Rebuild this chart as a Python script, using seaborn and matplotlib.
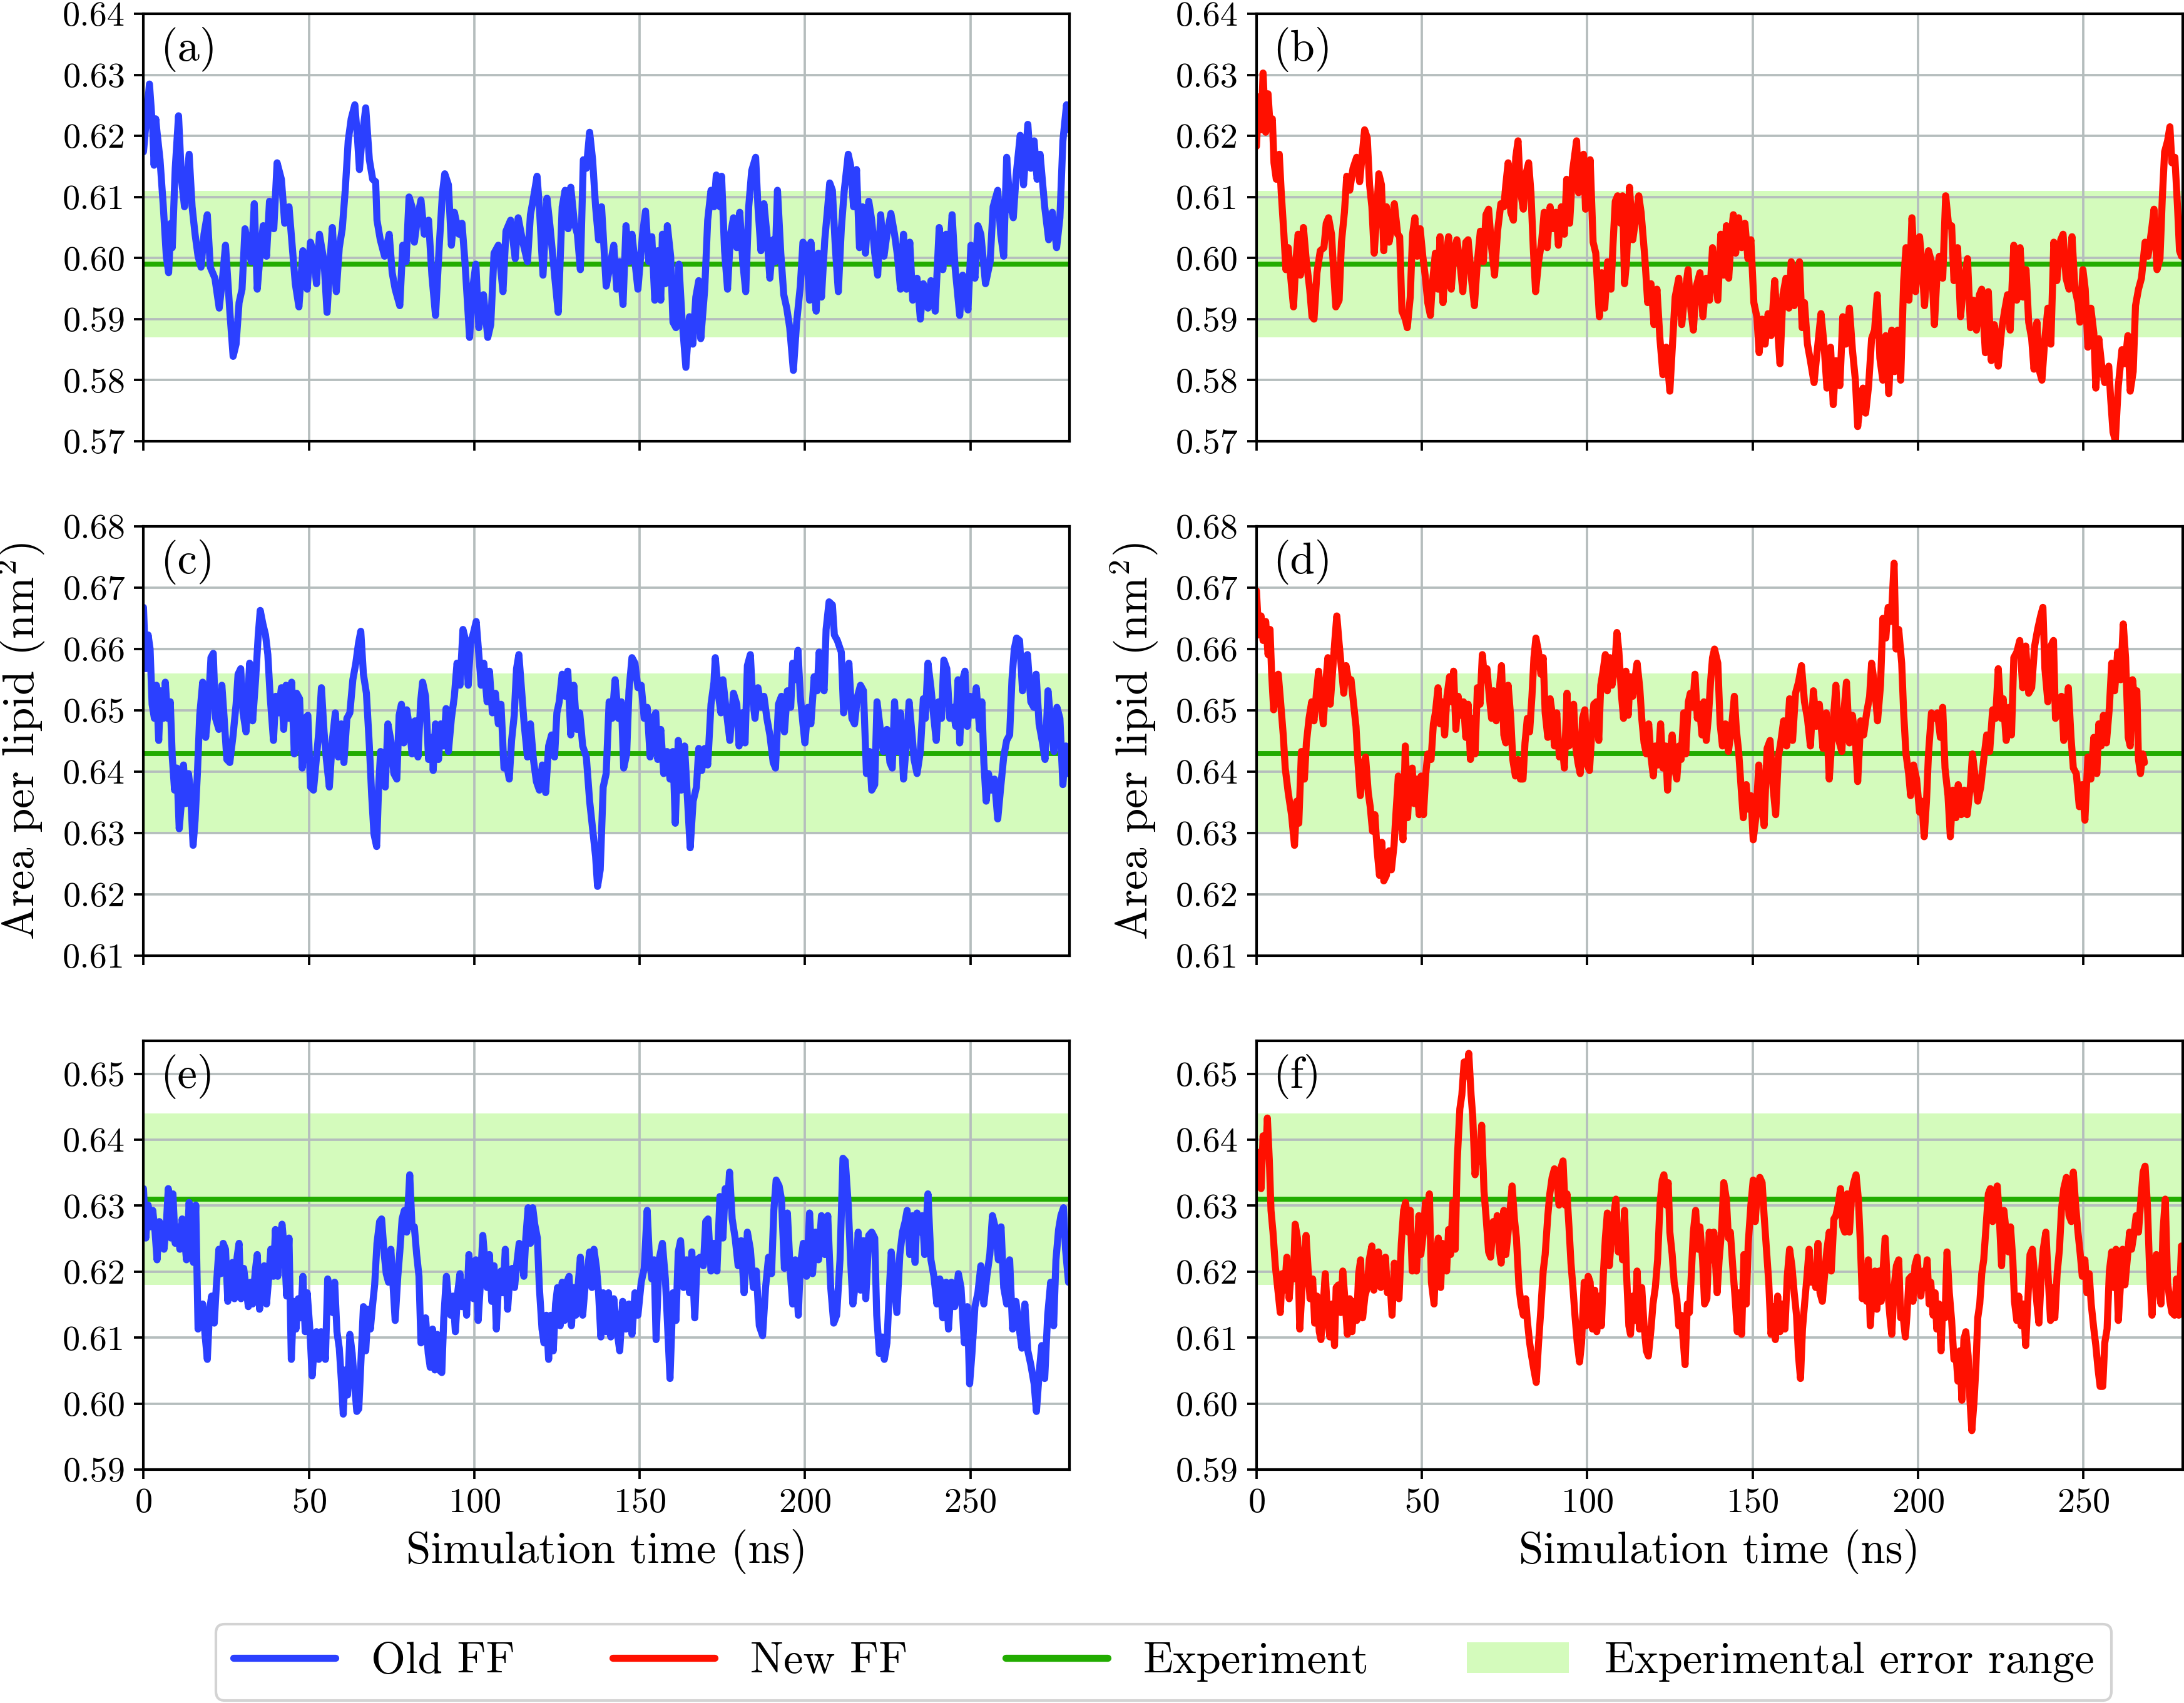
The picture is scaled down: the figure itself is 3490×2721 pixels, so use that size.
import numpy as np
import matplotlib
matplotlib.use("Agg")
import matplotlib.pyplot as plt
import seaborn as sns
from matplotlib.ticker import FormatStrFormatter, MultipleLocator
from matplotlib.lines import Line2D
from matplotlib.patches import Patch

# ---------------- data ----------------
t_a = [0.0,1.8,2.8,3.2,3.7,4.1,5.0,6.0,6.9,7.6,
       8.3,8.7,9.6,10.6,11.5,12.4,13.8,14.7,15.6,16.5,
       17.4,18.3,19.3,20.2,21.6,22.9,23.9,24.8,26.1,27.1,
       28.0,28.9,29.8,30.7,31.7,32.6,33.5,34.4,35.3,36.2,
       37.2,38.1,39.4,40.4,41.7,42.7,44.0,45.0,45.9,47.0,
       48.2,49.5,50.5,51.4,52.3,53.2,54.6,55.5,56.4,57.1,
       58.3,59.2,60.1,61.0,61.9,62.8,63.9,64.7,65.3,66.1,
       67.2,68.3,69.3,70.2,70.6,71.6,72.9,74.3,75.2,76.1,
       77.5,78.4,79.4,80.3,81.2,81.9,83.0,83.9,84.9,86.2,
       87.2,88.3,89.4,90.4,91.1,92.2,93.1,94.0,95.4,96.3,
       97.2,98.6,99.5,100.5,101.4,102.8,104.1,105.0,106.0,107.3,
       108.7,109.6,111.0,112.4,113.3,114.7,116.1,117.0,117.9,119.0,
       119.7,120.8,122.0,122.9,124.3,125.4,126.6,127.5,128.4,129.2,
       130.3,131.2,132.1,133.0,133.9,134.9,135.8,136.7,137.6,138.5,
       139.0,139.9,141.3,142.2,143.1,144.0,145.0,145.9,146.8,147.7,
       148.6,149.5,150.9,151.8,152.8,153.7,154.6,155.5,156.4,156.9,
       157.8,158.4,159.4,160.1,161.0,161.9,162.8,164.0,165.1,166.1,
       167.0,167.9,168.5,169.7,170.6,171.6,172.5,173.2,174.3,174.8,
       175.7,176.6,177.5,178.4,179.4,180.3,181.2,182.1,183.0,183.9,
       185.1,185.8,186.7,187.6,188.5,189.4,190.4,191.0,191.7,192.7,
       193.6,194.5,195.4,196.5,197.5,198.6,199.4,200.5,201.4,201.8,
       202.8,203.4,204.1,205.0,206.0,206.9,207.5,208.3,209.2,210.1,
       211.0,211.9,213.1,213.8,214.7,215.6,216.5,217.4,218.3,219.3,
       220.2,221.1,222.0,222.9,223.9,224.8,226.0,227.1,228.0,228.9,
       229.8,230.7,231.7,232.6,233.9,234.9,235.8,237.2,238.1,239.4,
       240.6,241.7,242.7,243.6,244.5,245.4,246.8,247.7,249.3,250.2,
       251.4,252.3,253.2,254.6,256.0,256.9,258.3,259.2,260.1,261.0,
       261.9,263.0,263.9,265.1,266.1,267.4,268.3,269.3,270.2,271.1,
       272.5,273.7,274.8,276.1,277.1,278.0,279.1,279.8]
old_a = [0.6174,0.6285,0.6210,0.6152,0.6228,0.6206,0.6161,0.6084,0.6003,0.5976,
         0.6057,0.6017,0.6147,0.6233,0.6129,0.6084,0.6170,0.6084,0.6039,0.6003,
         0.5985,0.6039,0.6071,0.5985,0.5967,0.5918,0.5967,0.6021,0.5913,0.5839,
         0.5859,0.5927,0.5949,0.6048,0.6017,0.5994,0.6089,0.5949,0.6008,0.6053,
         0.6003,0.6093,0.6048,0.6156,0.6129,0.6057,0.6084,0.6017,0.5958,0.5920,
         0.6012,0.5949,0.6026,0.6008,0.5958,0.6039,0.5994,0.5911,0.5994,0.6050,
         0.5945,0.6017,0.6048,0.6111,0.6192,0.6228,0.6251,0.6197,0.6145,0.6197,
         0.6246,0.6161,0.6129,0.6125,0.6062,0.6030,0.6003,0.6039,0.5976,0.5949,
         0.5922,0.6021,0.5994,0.6100,0.6084,0.6026,0.6071,0.6095,0.6039,0.6062,
         0.5972,0.5906,0.6017,0.6107,0.6138,0.6120,0.6021,0.6075,0.6039,0.6057,
         0.5994,0.5870,0.5949,0.5990,0.5886,0.5940,0.5870,0.5891,0.6008,0.6021,
         0.5945,0.6044,0.6062,0.5999,0.6066,0.6026,0.5994,0.6071,0.6098,0.6134,
         0.6084,0.5972,0.6098,0.6053,0.5972,0.5911,0.6084,0.6111,0.6048,0.6116,
         0.6057,0.6039,0.5981,0.6161,0.6147,0.6206,0.6161,0.6084,0.6030,0.6084,
         0.6039,0.5954,0.5994,0.6021,0.5949,0.5994,0.5924,0.6053,0.5994,0.6039,
         0.5994,0.5949,0.6039,0.6077,0.5994,0.6035,0.5931,0.6012,0.5931,0.6039,
         0.5958,0.6053,0.6003,0.5895,0.5886,0.5990,0.5904,0.5821,0.5904,0.5859,
         0.5936,0.5963,0.5868,0.5949,0.6062,0.6111,0.6084,0.6136,0.6084,0.6134,
         0.6012,0.5949,0.6039,0.6066,0.6017,0.6075,0.5994,0.5945,0.6084,0.6143,
         0.6165,0.6084,0.6012,0.6089,0.6039,0.5967,0.6030,0.5994,0.6111,0.6008,
         0.5940,0.5918,0.5886,0.5816,0.5895,0.5954,0.6026,0.6017,0.5931,0.6026,
         0.5949,0.5913,0.6008,0.5936,0.6030,0.6084,0.6123,0.6111,0.6017,0.5945,
         0.6048,0.6111,0.6170,0.6152,0.6084,0.6145,0.6017,0.6084,0.6008,0.6093,
         0.6062,0.6008,0.5972,0.6071,0.6003,0.6039,0.6073,0.6039,0.6003,0.5949,
         0.6039,0.5949,0.6026,0.5931,0.5967,0.5900,0.5958,0.5918,0.5963,0.5913,
         0.6050,0.5981,0.6039,0.5994,0.6071,0.5985,0.5906,0.5972,0.5915,0.6021,
         0.5967,0.6053,0.6039,0.5958,0.5994,0.6084,0.6111,0.6039,0.6003,0.6165,
         0.6093,0.6066,0.6138,0.6201,0.6120,0.6219,0.6147,0.6192,0.6129,0.6170,
         0.6084,0.6030,0.6075,0.6017,0.6066,0.6192,0.6251,0.6210]

t_b = [0.0,0.7,1.4,2.0,2.8,3.5,4.1,4.8,5.3,6.0,
       6.9,7.5,8.3,8.9,9.6,10.3,11.2,11.9,12.6,13.3,
       14.2,15.1,16.1,16.8,17.4,18.3,19.3,20.4,21.1,21.8,
       22.7,23.4,24.0,25.0,25.7,26.6,27.3,28.2,29.2,30.3,
       31.2,31.9,32.7,33.5,34.2,34.9,35.6,36.2,37.0,37.8,
       38.5,39.3,40.1,40.8,41.7,42.7,43.3,44.0,45.0,45.6,
       46.5,47.2,47.9,48.6,49.5,50.3,51.0,51.8,52.6,53.2,
       54.1,54.9,55.5,56.4,57.3,58.1,58.9,59.8,60.6,61.5,
       62.4,63.3,64.0,65.0,65.9,66.8,67.7,68.6,69.4,70.2,
       71.1,72.0,72.9,73.9,74.8,75.4,76.1,76.9,77.7,78.4,
       79.1,79.8,80.7,81.5,82.3,83.0,83.7,84.4,85.3,86.2,
       87.0,87.9,88.8,89.7,90.6,91.3,92.2,93.1,93.8,94.7,
       95.6,96.8,97.4,98.2,98.9,99.5,100.3,100.9,101.8,102.6,
       103.2,103.7,104.4,105.3,106.2,107.2,107.8,108.5,109.2,110.1,
       110.7,111.3,111.9,112.8,113.8,114.7,115.6,116.3,117.4,118.3,
       119.3,120.2,121.1,122.0,122.9,123.9,125.0,125.9,126.6,127.7,
       128.6,129.5,130.5,131.4,132.1,133.0,134.1,135.0,136.0,137.0,
       137.9,139.5,140.4,141.3,142.1,142.8,143.6,144.2,144.9,145.8,
       146.7,147.7,148.6,149.5,150.4,151.3,152.0,152.9,153.8,154.7,
       155.6,156.7,157.6,158.3,159.2,160.1,161.0,161.7,162.6,163.5,
       164.2,165.0,165.7,166.6,167.5,168.6,169.5,170.7,171.6,172.5,
       173.6,174.4,175.2,176.4,177.3,178.2,179.3,180.2,181.1,181.8,
       182.7,183.4,184.2,185.1,186.0,186.9,187.7,188.5,189.4,190.3,
       191.2,192.1,193.0,193.9,194.8,195.7,196.4,197.3,198.2,199.3,
       200.5,201.2,202.0,203.2,204.1,205.0,205.9,206.5,207.5,208.4,
       209.3,210.2,210.9,212.0,212.9,213.8,215.0,215.9,216.8,217.7,
       218.6,219.3,220.4,221.3,222.2,223.1,224.3,225.3,226.2,227.1,
       227.9,229.0,229.9,230.9,231.8,232.7,233.5,234.4,235.1,236.0,
       236.8,237.5,238.4,239.3,240.2,241.1,242.0,243.2,243.9,244.8,
       245.7,246.6,247.5,248.4,249.0,249.9,250.6,251.4,252.3,253.2,
       253.8,254.7,255.6,256.5,257.7,258.3,259.0,259.7,260.6,261.7,
       262.6,263.5,264.2,265.1,265.8,266.7,267.6,268.7,269.6,270.7,
       271.4,272.3,273.2,273.9,274.6,275.5,276.2,276.8,277.7,278.5,
       279.1,279.7]
new_b = [0.6183,0.6264,0.6210,0.6303,0.6206,0.6269,0.6219,0.6228,0.6156,0.6129,
         0.6170,0.6107,0.6039,0.5981,0.6017,0.5972,0.5920,0.5994,0.6039,0.5972,
         0.6050,0.5994,0.5949,0.5904,0.5900,0.5976,0.6012,0.6017,0.6057,0.6066,
         0.6039,0.5972,0.5920,0.5931,0.6026,0.6075,0.6134,0.6111,0.6147,0.6165,
         0.6125,0.6165,0.6210,0.6197,0.6120,0.6084,0.6008,0.6057,0.6138,0.6120,
         0.6012,0.6084,0.6026,0.6048,0.6089,0.6039,0.6035,0.5913,0.5900,0.5886,
         0.5936,0.6039,0.6066,0.6003,0.6048,0.6003,0.5972,0.5927,0.5906,0.5958,
         0.6008,0.5949,0.6035,0.5927,0.6003,0.6035,0.5949,0.6012,0.6030,0.5994,
         0.5945,0.6026,0.6030,0.5967,0.5922,0.5994,0.6044,0.5994,0.6071,0.6080,
         0.6017,0.5972,0.6044,0.6089,0.6084,0.6120,0.6156,0.6075,0.6062,0.6165,
         0.6192,0.6111,0.6080,0.6138,0.6156,0.6107,0.6017,0.5945,0.5994,0.6026,
         0.6075,0.6017,0.6084,0.6048,0.6075,0.6021,0.6084,0.6039,0.6129,0.6057,
         0.6143,0.6192,0.6107,0.6143,0.6170,0.6080,0.6120,0.6161,0.6026,0.6008,
         0.5949,0.5904,0.5976,0.5918,0.5994,0.5949,0.6021,0.6093,0.6102,0.6057,
         0.6102,0.5958,0.5994,0.6116,0.6030,0.6066,0.6102,0.6075,0.6003,0.5927,
         0.5958,0.5891,0.5949,0.5868,0.5809,0.5854,0.5782,0.5868,0.5936,0.5967,
         0.5891,0.5940,0.5981,0.5913,0.5882,0.5954,0.5976,0.5904,0.5967,0.5931,
         0.6017,0.5931,0.6039,0.5972,0.6053,0.5967,0.6039,0.6071,0.6008,0.6066,
         0.6017,0.6057,0.5999,0.6030,0.5927,0.5904,0.5845,0.5900,0.5859,0.5909,
         0.5873,0.5963,0.5882,0.5827,0.5940,0.5967,0.5918,0.5994,0.5922,0.5976,
         0.5994,0.5886,0.5927,0.5859,0.5832,0.5796,0.5845,0.5909,0.5859,0.5787,
         0.5854,0.5760,0.5832,0.5791,0.5904,0.5859,0.5918,0.5850,0.5800,0.5724,
         0.5769,0.5787,0.5746,0.5791,0.5868,0.5882,0.5940,0.5836,0.5800,0.5873,
         0.5778,0.5882,0.5814,0.5882,0.5800,0.5963,0.6017,0.5931,0.6066,0.5945,
         0.6035,0.5994,0.5922,0.6012,0.5994,0.5891,0.5985,0.6003,0.5967,0.6102,
         0.6053,0.6053,0.5963,0.6017,0.5904,0.5958,0.5999,0.5886,0.5931,0.5882,
         0.5940,0.5949,0.5845,0.5945,0.5832,0.5891,0.5823,0.5882,0.5913,0.5940,
         0.5882,0.6021,0.5931,0.6017,0.5936,0.5981,0.5895,0.5868,0.5818,0.5895,
         0.5814,0.5800,0.5868,0.5918,0.5859,0.6026,0.5963,0.6030,0.6039,0.5967,
         0.5949,0.6035,0.5949,0.5927,0.5895,0.5981,0.5949,0.5854,0.5918,0.5877,
         0.5787,0.5868,0.5823,0.5796,0.5823,0.5769,0.5715,0.5701,0.5791,0.5850,
         0.5827,0.5873,0.5782,0.5814,0.5922,0.5949,0.5967,0.6026,0.6003,0.6048,
         0.6080,0.5981,0.5999,0.6098,0.6174,0.6192,0.6215,0.6156,0.6165,0.6084,
         0.6012,0.6003]

t_c = [0.0,0.7,1.4,2.0,2.6,3.3,3.9,4.6,5.2,6.0,
       6.6,7.3,8.1,8.7,9.4,10.1,10.8,11.5,12.1,12.8,
       13.6,14.2,15.0,15.6,16.3,17.0,17.9,18.8,19.5,20.4,
       21.1,21.8,22.8,23.7,24.4,25.2,26.1,27.1,28.0,28.6,
       29.4,30.1,31.0,32.1,33.0,33.9,34.7,35.3,36.1,36.9,
       37.6,38.3,39.3,40.0,40.8,41.7,42.4,43.1,44.0,44.8,
       45.6,46.3,47.2,48.0,48.9,49.7,50.5,51.4,52.1,53.0,
       53.8,54.6,55.3,56.2,57.1,58.0,58.9,59.8,60.6,61.5,
       62.4,63.3,64.2,65.0,65.7,66.5,67.4,68.3,69.0,69.7,
       70.5,71.1,71.7,72.5,73.1,73.9,74.8,75.7,76.6,77.3,
       78.0,78.7,79.6,80.5,81.2,82.1,83.0,83.8,84.4,85.3,
       86.2,87.2,87.6,88.3,89.2,89.9,90.8,91.5,92.2,93.1,
       94.0,94.8,95.7,96.6,97.4,98.2,98.9,99.8,100.6,101.4,
       102.1,102.9,103.9,104.6,105.5,106.4,107.3,108.1,109.0,109.7,
       110.6,111.3,112.1,112.8,113.5,114.2,115.1,116.1,117.0,117.9,
       118.8,119.7,120.6,121.6,122.5,123.4,124.3,125.0,125.7,126.6,
       127.5,128.3,129.2,130.1,131.0,131.9,132.8,133.9,134.9,135.8,
       136.7,137.3,138.1,139.0,139.9,140.8,141.7,142.6,143.6,144.5,
       145.2,146.1,146.8,147.7,148.6,149.5,150.5,151.4,152.3,153.2,
       154.1,154.9,155.5,156.4,157.3,158.3,159.2,160.1,160.8,161.7,
       162.6,163.6,164.7,165.3,166.2,167.2,167.9,168.8,169.7,170.6,
       171.6,172.5,172.9,173.9,174.6,175.2,176.1,177.3,178.4,179.4,
       180.1,181.0,181.9,182.6,183.5,184.2,184.9,185.8,186.7,187.6,
       188.5,189.4,190.4,191.1,192.0,192.9,193.8,194.7,195.7,196.3,
       197.2,197.9,198.6,199.4,200.0,200.9,201.8,202.8,203.7,204.3,
       205.0,205.8,206.4,207.3,208.3,208.9,209.8,211.0,211.7,212.6,
       213.3,214.2,215.0,215.9,216.8,217.7,218.6,219.5,220.2,221.1,
       221.8,222.8,223.7,224.8,225.7,226.4,227.1,228.0,228.9,229.8,
       230.7,231.5,232.4,233.0,233.9,234.9,235.8,236.4,237.2,238.1,
       239.0,239.7,240.4,241.3,242.0,242.9,243.8,244.7,245.6,246.3,
       246.8,247.7,248.4,249.1,250.0,250.9,251.8,252.8,253.5,254.1,
       254.8,255.5,256.4,257.3,258.3,259.2,260.1,261.0,261.9,262.6,
       263.3,264.0,264.9,265.8,266.4,267.3,268.3,269.2,269.9,270.8,
       271.7,272.6,273.5,274.4,275.3,276.2,277.1,278.0,278.9,279.5]
old_c = [0.6668,0.6568,0.6623,0.6600,0.6510,0.6487,0.6541,0.6451,0.6532,0.6487,
         0.6546,0.6487,0.6514,0.6424,0.6370,0.6406,0.6307,0.6352,0.6411,0.6348,
         0.6397,0.6370,0.6280,0.6321,0.6397,0.6492,0.6546,0.6456,0.6496,0.6586,
         0.6593,0.6487,0.6469,0.6541,0.6487,0.6420,0.6415,0.6460,0.6510,0.6559,
         0.6568,0.6496,0.6465,0.6577,0.6483,0.6550,0.6623,0.6663,0.6641,0.6623,
         0.6591,0.6523,0.6451,0.6523,0.6496,0.6537,0.6469,0.6541,0.6487,0.6546,
         0.6429,0.6528,0.6519,0.6406,0.6487,0.6492,0.6375,0.6370,0.6411,0.6465,
         0.6537,0.6465,0.6420,0.6375,0.6451,0.6496,0.6424,0.6478,0.6415,0.6487,
         0.6496,0.6550,0.6577,0.6609,0.6629,0.6559,0.6528,0.6442,0.6361,0.6298,
         0.6278,0.6375,0.6433,0.6406,0.6375,0.6478,0.6451,0.6397,0.6388,0.6492,
         0.6510,0.6447,0.6501,0.6469,0.6429,0.6483,0.6424,0.6514,0.6546,0.6523,
         0.6420,0.6456,0.6402,0.6478,0.6420,0.6478,0.6442,0.6503,0.6433,0.6487,
         0.6523,0.6577,0.6541,0.6632,0.6614,0.6541,0.6609,0.6627,0.6645,0.6591,
         0.6541,0.6577,0.6514,0.6564,0.6496,0.6528,0.6478,0.6510,0.6406,0.6415,
         0.6388,0.6451,0.6492,0.6568,0.6591,0.6541,0.6478,0.6424,0.6478,0.6420,
         0.6384,0.6370,0.6411,0.6366,0.6442,0.6460,0.6424,0.6496,0.6514,0.6559,
         0.6523,0.6564,0.6460,0.6541,0.6469,0.6496,0.6442,0.6424,0.6352,0.6307,
         0.6262,0.6213,0.6240,0.6375,0.6397,0.6514,0.6487,0.6550,0.6487,0.6514,
         0.6406,0.6429,0.6532,0.6586,0.6577,0.6537,0.6541,0.6487,0.6505,0.6424,
         0.6487,0.6496,0.6420,0.6469,0.6397,0.6433,0.6388,0.6433,0.6316,0.6451,
         0.6370,0.6442,0.6334,0.6276,0.6352,0.6375,0.6438,0.6402,0.6438,0.6411,
         0.6510,0.6546,0.6586,0.6523,0.6496,0.6550,0.6505,0.6451,0.6528,0.6510,
         0.6442,0.6496,0.6447,0.6573,0.6591,0.6519,0.6487,0.6537,0.6505,0.6523,
         0.6487,0.6460,0.6415,0.6406,0.6510,0.6523,0.6465,0.6532,0.6505,0.6577,
         0.6550,0.6598,0.6523,0.6478,0.6447,0.6505,0.6478,0.6555,0.6532,0.6595,
         0.6559,0.6532,0.6632,0.6677,0.6672,0.6623,0.6614,0.6595,0.6496,0.6523,
         0.6577,0.6487,0.6478,0.6523,0.6541,0.6532,0.6397,0.6433,0.6370,0.6379,
         0.6514,0.6469,0.6433,0.6469,0.6415,0.6406,0.6514,0.6433,0.6496,0.6388,
         0.6447,0.6514,0.6460,0.6420,0.6397,0.6433,0.6519,0.6487,0.6577,0.6537,
         0.6487,0.6451,0.6514,0.6487,0.6582,0.6568,0.6487,0.6505,0.6474,0.6550,
         0.6447,0.6550,0.6564,0.6474,0.6523,0.6492,0.6537,0.6469,0.6514,0.6415,
         0.6352,0.6397,0.6370,0.6388,0.6323,0.6375,0.6424,0.6451,0.6460,0.6550,
         0.6600,0.6618,0.6614,0.6532,0.6586,0.6591,0.6514,0.6505,0.6559,0.6478,
         0.6451,0.6420,0.6532,0.6478,0.6433,0.6505,0.6487,0.6379,0.6442,0.6397]

t_d = [0.0,0.7,1.4,2.0,2.8,3.5,4.1,4.6,5.2,6.0,
       6.6,7.3,8.1,8.7,9.6,10.6,11.5,12.2,12.8,13.6,
       14.5,15.1,15.9,16.7,17.4,18.2,18.8,19.5,20.2,20.9,
       21.6,22.3,22.9,23.7,24.3,25.0,25.7,26.4,27.1,27.8,
       28.6,29.4,30.1,30.7,31.4,32.1,33.0,33.8,34.4,35.1,
       35.8,36.5,37.2,37.9,38.5,39.3,40.1,40.8,41.6,42.2,
       42.9,43.6,44.3,45.0,45.7,46.4,47.1,47.7,48.4,49.2,
       49.8,50.5,51.2,51.8,52.8,53.5,54.1,54.9,55.5,56.2,
       56.9,57.6,58.4,59.0,59.6,60.3,61.0,61.7,62.6,63.3,
       64.0,64.7,65.4,66.1,66.8,67.6,68.3,69.0,69.7,70.4,
       71.1,71.7,72.5,73.4,74.1,74.8,75.4,76.1,76.9,77.5,
       78.3,79.1,79.8,80.6,81.2,81.9,82.6,83.3,83.9,84.5,
       85.3,86.0,86.7,87.3,88.1,88.8,89.4,90.1,90.8,91.6,
       92.4,93.1,93.9,94.5,95.2,95.9,96.5,97.2,97.9,98.6,
       99.3,100.0,100.7,101.4,102.0,102.8,103.5,104.1,104.8,105.5,
       106.1,106.9,107.5,108.3,109.0,109.6,110.4,111.0,111.7,112.4,
       113.0,113.8,114.5,115.1,115.9,116.5,117.2,117.9,118.6,119.3,
       120.0,120.6,121.4,122.2,122.9,123.7,124.3,125.0,125.7,126.4,
       127.1,127.8,128.4,129.2,129.8,130.6,131.2,131.9,132.6,133.3,
       133.9,134.7,135.3,136.0,136.7,137.3,137.9,138.5,139.5,140.2,
       140.9,141.8,142.7,143.6,144.5,145.1,145.8,146.6,147.2,148.1,
       148.7,149.5,150.2,151.0,151.9,152.6,153.5,154.4,155.3,156.2,
       157.0,157.8,158.5,159.4,160.3,161.2,162.1,163.0,163.9,164.8,
       165.7,166.6,167.5,168.4,169.3,170.2,171.3,172.3,173.2,174.1,
       175.2,176.1,177.0,177.6,178.4,179.3,180.2,181.1,181.8,182.7,
       183.6,184.5,185.4,186.0,186.9,187.8,188.7,189.4,190.3,191.0,
       191.9,192.8,193.4,194.2,195.1,195.7,196.4,197.2,197.8,198.7,
       199.6,200.5,201.2,201.9,202.6,203.2,204.1,205.0,205.9,206.8,
       207.5,208.2,209.1,209.8,210.6,211.5,212.2,213.1,214.0,214.9,
       215.9,216.5,217.2,218.1,219.0,219.9,220.8,221.7,222.6,223.5,
       224.3,225.2,225.8,226.7,227.6,228.3,229.0,229.9,230.8,231.7,
       232.6,233.5,234.4,235.3,236.2,237.1,237.8,238.4,239.3,240.2,
       241.0,241.6,242.5,243.4,244.1,244.8,245.5,246.3,247.0,247.9,
       248.8,249.7,250.5,251.4,252.3,253.2,254.1,254.7,255.4,256.1,
       257.0,257.9,258.6,259.5,260.4,261.3,262.1,262.8,263.6,264.2,
       264.9,265.6,266.2,266.7,267.3,268.0,268.5]
new_d = [0.6695,0.6623,0.6654,0.6614,0.6645,0.6591,0.6632,0.6559,0.6501,0.6546,
         0.6559,0.6514,0.6460,0.6406,0.6366,0.6330,0.6280,0.6352,0.6316,0.6433,
         0.6388,0.6447,0.6487,0.6514,0.6483,0.6532,0.6564,0.6514,0.6478,0.6541,
         0.6586,0.6510,0.6555,0.6614,0.6654,0.6609,0.6568,0.6528,0.6573,0.6550,
         0.6550,0.6510,0.6474,0.6415,0.6361,0.6406,0.6424,0.6366,0.6343,0.6303,
         0.6330,0.6271,0.6231,0.6285,0.6222,0.6231,0.6271,0.6240,0.6280,0.6334,
         0.6393,0.6330,0.6289,0.6442,0.6325,0.6397,0.6406,0.6348,0.6388,0.6330,
         0.6393,0.6330,0.6397,0.6429,0.6420,0.6478,0.6496,0.6537,0.6478,0.6514,
         0.6460,0.6523,0.6555,0.6514,0.6564,0.6469,0.6523,0.6492,0.6514,0.6456,
         0.6510,0.6420,0.6487,0.6429,0.6537,0.6510,0.6591,0.6550,0.6568,0.6523,
         0.6487,0.6532,0.6483,0.6532,0.6573,0.6460,0.6447,0.6541,0.6487,0.6420,
         0.6393,0.6420,0.6388,0.6388,0.6447,0.6487,0.6465,0.6523,0.6586,0.6618,
         0.6595,0.6559,0.6586,0.6496,0.6456,0.6519,0.6496,0.6442,0.6496,0.6424,
         0.6447,0.6406,0.6528,0.6442,0.6487,0.6510,0.6442,0.6415,0.6397,0.6487,
         0.6501,0.6411,0.6402,0.6465,0.6510,0.6514,0.6451,0.6541,0.6564,0.6591,
         0.6532,0.6586,0.6541,0.6568,0.6627,0.6595,0.6523,0.6487,0.6564,0.6492,
         0.6555,0.6523,0.6555,0.6577,0.6537,0.6487,0.6447,0.6429,0.6478,0.6424,
         0.6393,0.6442,0.6411,0.6478,0.6406,0.6442,0.6370,0.6429,0.6460,0.6406,
         0.6388,0.6442,0.6420,0.6496,0.6429,0.6514,0.6528,0.6505,0.6559,0.6487,
         0.6510,0.6460,0.6514,0.6451,0.6492,0.6546,0.6586,0.6600,0.6577,0.6478,
         0.6442,0.6478,0.6433,0.6469,0.6523,0.6469,0.6433,0.6370,0.6325,0.6379,
         0.6339,0.6361,0.6289,0.6325,0.6411,0.6352,0.6312,0.6438,0.6451,0.6375,
         0.6330,0.6424,0.6447,0.6483,0.6442,0.6519,0.6451,0.6528,0.6546,0.6573,
         0.6514,0.6487,0.6442,0.6532,0.6474,0.6510,0.6438,0.6496,0.6388,0.6460,
         0.6541,0.6451,0.6433,0.6496,0.6546,0.6447,0.6492,0.6451,0.6384,0.6483,
         0.6460,0.6496,0.6523,0.6577,0.6541,0.6483,0.6541,0.6650,0.6618,0.6668,
         0.6645,0.6740,0.6600,0.6632,0.6577,0.6496,0.6429,0.6397,0.6361,0.6411,
         0.6388,0.6334,0.6352,0.6294,0.6352,0.6429,0.6496,0.6487,0.6496,0.6456,
         0.6505,0.6406,0.6361,0.6294,0.6370,0.6325,0.6379,0.6330,0.6370,0.6330,
         0.6379,0.6429,0.6397,0.6352,0.6375,0.6420,0.6460,0.6433,0.6501,0.6487,
         0.6568,0.6487,0.6519,0.6451,0.6505,0.6460,0.6586,0.6595,0.6614,0.6537,
         0.6605,0.6528,0.6537,0.6605,0.6632,0.6654,0.6668,0.6568,0.6514,0.6605,
         0.6614,0.6487,0.6514,0.6523,0.6451,0.6487,0.6537,0.6456,0.6406,0.6397,
         0.6343,0.6379,0.6321,0.6424,0.6388,0.6456,0.6397,0.6478,0.6442,0.6492,
         0.6447,0.6505,0.6577,0.6532,0.6595,0.6550,0.6641,0.6586,0.6456,0.6442,
         0.6550,0.6514,0.6532,0.6420,0.6397,0.6429,0.6415]

t_e = [0.0,0.7,1.4,2.0,2.8,3.5,4.1,4.8,5.5,6.2,
       6.9,7.5,8.3,8.9,9.6,10.3,11.0,11.7,12.4,13.0,
       13.8,14.5,15.1,15.8,16.5,17.2,17.9,18.6,19.3,20.0,
       20.6,21.4,22.0,22.8,23.4,24.1,24.8,25.5,26.1,26.9,
       27.5,28.3,28.9,29.5,30.3,31.0,31.7,32.4,33.0,33.8,
       34.4,35.1,35.8,36.5,37.2,37.9,38.5,39.3,39.9,40.6,
       41.3,41.9,42.7,43.3,44.0,44.7,45.4,46.1,46.8,47.5,
       48.2,48.9,49.5,50.3,51.0,51.7,52.3,53.0,53.7,54.4,
       55.0,55.7,56.4,57.2,57.8,58.5,59.2,59.8,60.4,61.0,
       61.7,62.4,63.1,63.8,64.5,65.1,65.9,66.5,67.2,67.9,
       68.6,69.3,69.9,70.6,71.4,72.0,72.8,73.4,74.1,74.8,
       75.4,76.1,76.9,77.5,78.2,78.9,79.6,80.5,81.2,81.9,
       82.6,83.3,83.9,84.6,85.3,86.1,86.7,87.4,88.1,88.8,
       89.4,90.2,90.8,91.6,92.2,92.9,93.6,94.3,95.0,95.7,
       96.3,97.1,97.7,98.4,99.1,99.8,100.5,101.2,101.8,102.6,
       103.2,103.9,104.6,105.3,106.0,106.7,107.3,108.1,108.7,109.4,
       110.1,110.8,111.5,112.2,112.8,113.6,114.2,115.0,115.6,116.3,
       117.0,117.7,118.3,119.1,119.7,120.5,121.1,121.8,122.5,123.2,
       123.9,124.6,125.2,126.0,126.6,127.3,128.0,128.7,129.4,130.1,
       130.7,131.5,132.1,132.8,133.5,134.2,134.9,135.6,136.2,137.0,
       137.6,138.3,139.0,139.9,140.6,141.3,142.2,143.1,144.0,144.9,
       145.9,146.8,147.7,148.6,149.5,150.5,151.4,152.3,153.0,153.7,
       154.4,155.0,155.9,156.9,157.8,158.4,159.2,160.1,161.0,161.7,
       162.4,163.3,164.2,165.1,165.8,166.7,167.4,168.3,169.3,170.0,
       170.7,171.6,172.5,173.4,174.3,175.2,175.9,176.6,177.2,178.0,
       178.9,179.8,180.7,181.6,182.6,183.5,184.4,185.3,186.2,187.2,
       188.1,189.0,189.9,190.6,191.3,192.2,192.9,193.8,194.7,195.6,
       196.3,197.1,198.0,198.6,199.5,200.5,201.4,202.3,203.2,204.1,
       205.0,206.0,206.9,207.8,208.7,209.6,210.6,211.5,212.2,213.1,
       213.8,214.5,215.3,216.1,216.8,217.7,218.4,219.3,220.2,221.1,
       221.7,222.5,223.4,224.0,224.8,225.4,226.1,227.1,227.8,228.7,
       229.5,230.3,230.9,231.7,232.6,233.3,233.9,234.9,235.5,236.2,
       237.2,238.1,239.0,239.9,240.8,241.7,242.7,243.4,244.3,245.3,
       246.4,247.2,248.2,249.1,249.8,250.5,251.4,252.3,253.2,254.1,
       255.0,255.9,256.7,257.5,258.5,259.3,260.1,261.0,261.9,262.8,
       263.8,264.7,265.6,266.5,267.4,268.3,269.3,270.0,270.9,271.6,
       272.5,273.4,274.3,275.2,275.9,276.7,277.4,278.2,278.8,279.7]
old_e = [0.6326,0.6251,0.6301,0.6268,0.6293,0.6260,0.6218,0.6276,0.6260,0.6234,
         0.6272,0.6326,0.6251,0.6318,0.6243,0.6268,0.6234,0.6280,0.6251,0.6218,
         0.6305,0.6230,0.6214,0.6301,0.6113,0.6143,0.6151,0.6105,0.6067,0.6143,
         0.6163,0.6122,0.6176,0.6234,0.6197,0.6243,0.6234,0.6155,0.6205,0.6214,
         0.6159,0.6222,0.6243,0.6159,0.6205,0.6176,0.6147,0.6184,0.6151,0.6201,
         0.6226,0.6143,0.6197,0.6209,0.6151,0.6193,0.6234,0.6193,0.6264,0.6193,
         0.6251,0.6272,0.6226,0.6163,0.6251,0.6067,0.6155,0.6113,0.6159,0.6130,
         0.6193,0.6109,0.6168,0.6113,0.6042,0.6092,0.6109,0.6067,0.6109,0.6101,
         0.6067,0.6189,0.6155,0.6138,0.6184,0.6109,0.6084,0.6038,0.5984,0.6051,
         0.6013,0.6105,0.6076,0.6030,0.5988,0.5992,0.6080,0.6147,0.6080,0.6143,
         0.6113,0.6151,0.6180,0.6243,0.6276,0.6280,0.6226,0.6197,0.6184,0.6234,
         0.6184,0.6126,0.6193,0.6230,0.6280,0.6293,0.6260,0.6347,0.6268,0.6268,
         0.6226,0.6193,0.6092,0.6097,0.6130,0.6076,0.6055,0.6113,0.6051,0.6105,
         0.6051,0.6047,0.6130,0.6193,0.6159,0.6134,0.6163,0.6109,0.6168,0.6197,
         0.6147,0.6184,0.6134,0.6226,0.6176,0.6159,0.6218,0.6126,0.6176,0.6255,
         0.6218,0.6176,0.6226,0.6155,0.6209,0.6113,0.6176,0.6201,0.6168,0.6234,
         0.6143,0.6193,0.6205,0.6176,0.6209,0.6243,0.6234,0.6193,0.6251,0.6297,
         0.6243,0.6297,0.6272,0.6251,0.6176,0.6113,0.6092,0.6134,0.6067,0.6134,
         0.6080,0.6151,0.6176,0.6118,0.6184,0.6126,0.6184,0.6193,0.6118,0.6176,
         0.6134,0.6184,0.6222,0.6134,0.6176,0.6201,0.6230,0.6176,0.6234,0.6205,
         0.6168,0.6101,0.6168,0.6109,0.6168,0.6101,0.6159,0.6113,0.6080,0.6155,
         0.6113,0.6151,0.6105,0.6168,0.6134,0.6184,0.6205,0.6293,0.6218,0.6189,
         0.6218,0.6097,0.6218,0.6243,0.6189,0.6126,0.6038,0.6168,0.6126,0.6230,
         0.6247,0.6176,0.6218,0.6168,0.6230,0.6130,0.6218,0.6222,0.6209,0.6276,
         0.6280,0.6201,0.6243,0.6201,0.6314,0.6251,0.6326,0.6301,0.6351,0.6280,
         0.6251,0.6209,0.6247,0.6168,0.6260,0.6234,0.6176,0.6201,0.6118,0.6103,
         0.6176,0.6222,0.6197,0.6293,0.6339,0.6330,0.6310,0.6205,0.6289,0.6197,
         0.6151,0.6218,0.6134,0.6209,0.6243,0.6193,0.6289,0.6197,0.6260,0.6218,
         0.6285,0.6226,0.6285,0.6176,0.6122,0.6134,0.6218,0.6372,0.6368,0.6301,
         0.6218,0.6151,0.6184,0.6260,0.6172,0.6247,0.6159,0.6255,0.6260,0.6251,
         0.6134,0.6076,0.6101,0.6067,0.6092,0.6159,0.6230,0.6176,0.6138,0.6226,
         0.6260,0.6276,0.6293,0.6226,0.6285,0.6214,0.6289,0.6260,0.6285,0.6226,
         0.6318,0.6218,0.6193,0.6151,0.6189,0.6130,0.6184,0.6113,0.6184,0.6147,
         0.6197,0.6176,0.6092,0.6147,0.6030,0.6076,0.6147,0.6168,0.6209,0.6151,
         0.6193,0.6226,0.6285,0.6268,0.6218,0.6268,0.6176,0.6151,0.6218,0.6113,
         0.6155,0.6118,0.6084,0.6151,0.6080,0.6059,0.6030,0.5988,0.6051,0.6088,
         0.6038,0.6134,0.6184,0.6118,0.6218,0.6264,0.6285,0.6297,0.6234,0.6184]

t_f = [0.0,0.7,1.4,2.0,2.8,3.3,3.9,4.4,5.0,5.7,
       6.4,7.2,7.8,8.5,9.2,9.9,10.6,11.2,11.7,12.4,
       13.1,13.8,14.4,15.0,15.6,16.2,17.0,17.6,18.3,19.0,
       19.5,20.2,20.8,21.6,22.2,22.9,23.6,24.1,24.8,25.5,
       26.1,26.8,27.5,28.2,28.9,29.5,30.3,30.9,31.5,32.1,
       32.8,33.5,34.1,34.9,35.5,36.2,36.9,37.6,38.3,39.0,
       39.6,40.4,41.0,41.7,42.4,43.1,43.8,44.5,45.1,45.9,
       46.5,47.1,47.7,48.4,49.1,49.7,50.5,51.1,51.7,52.3,
       52.9,53.7,54.3,55.0,55.7,56.2,56.9,57.5,58.1,58.7,
       59.4,60.1,60.7,61.5,62.1,62.8,63.6,64.2,64.9,65.4,
       66.1,66.7,67.4,68.1,68.8,69.4,70.2,70.8,71.6,72.2,
       72.8,73.4,74.0,74.8,75.4,76.1,76.8,77.3,78.0,78.6,
       79.4,80.0,80.7,81.4,81.9,82.6,83.2,83.9,84.6,85.3,
       86.0,86.7,87.3,88.1,88.7,89.4,90.1,90.8,91.5,92.0,
       92.7,93.3,93.9,94.5,95.1,95.7,96.3,97.0,97.7,98.3,
       99.1,99.7,100.3,100.9,101.6,102.3,102.9,103.7,104.3,104.9,
       105.5,106.1,106.7,107.3,108.0,108.7,109.4,110.1,110.7,111.3,
       111.9,112.6,113.1,113.8,114.4,115.1,115.8,116.5,117.2,117.9,
       118.5,119.3,119.9,120.6,121.3,122.0,122.7,123.2,123.9,124.5,
       125.0,125.7,126.3,127.1,127.7,128.4,129.1,129.6,130.3,130.9,
       131.5,132.1,132.8,133.5,134.1,134.9,135.5,136.2,136.9,137.6,
       138.3,139.3,139.9,140.6,141.3,142.1,142.7,143.3,144.0,144.8,
       145.4,146.0,146.7,147.4,148.1,148.7,149.5,150.2,150.8,151.4,
       152.2,152.9,153.5,154.2,154.9,155.6,156.2,156.9,157.6,158.3,
       158.9,159.8,160.5,161.2,161.9,162.6,163.3,163.9,164.5,165.1,
       165.8,166.4,167.1,167.7,168.4,169.1,169.8,170.4,171.1,171.9,
       172.5,173.2,173.8,174.6,175.2,175.9,176.6,177.3,177.9,178.6,
       179.3,180.0,180.6,181.3,182.0,182.6,183.2,183.8,184.5,185.0,
       185.6,186.2,187.0,187.6,188.3,188.9,189.5,190.1,190.7,191.5,
       192.1,192.8,193.5,194.2,194.8,195.5,196.2,196.7,197.3,198.0,
       198.5,199.1,199.8,200.3,200.9,201.6,202.1,202.8,203.4,203.9,
       204.6,205.2,205.7,206.4,207.0,207.5,208.2,208.8,209.5,210.2,
       210.9,211.5,212.1,212.7,213.3,213.9,214.5,215.2,215.7,216.3,
       217.0,217.5,218.1,218.7,219.3,219.9,220.6,221.3,221.9,222.6,
       223.3,224.0,224.6,225.3,226.0,226.7,227.4,228.0,228.7,229.2,
       229.9,230.5,231.2,231.9,232.6,233.3,233.9,234.6,235.3,236.0,
       236.6,237.3,237.9,238.7,239.3,240.1,240.7,241.4,242.1,242.8,
       243.4,244.1,244.9,245.7,246.4,247.0,247.7,248.4,249.1,249.7,
       250.5,251.1,251.8,252.4,253.2,253.8,254.5,255.1,255.9,256.5,
       257.2,257.9,258.6,259.2,259.9,260.6,261.3,261.9,262.6,263.3,
       264.0,264.6,265.4,266.0,266.7,267.3,268.1,268.7,269.4,270.1,
       270.8,271.4,272.1,272.8,273.5,274.1,274.8,275.5,276.2,276.8,
       277.6,278.2,278.9,279.7]
new_f = [0.6335,0.6381,0.6326,0.6406,0.6376,0.6433,0.6368,0.6293,0.6260,0.6209,
         0.6176,0.6138,0.6197,0.6172,0.6222,0.6159,0.6209,0.6189,0.6272,0.6251,
         0.6113,0.6176,0.6226,0.6255,0.6205,0.6159,0.6189,0.6122,0.6163,0.6109,
         0.6097,0.6151,0.6197,0.6126,0.6101,0.6151,0.6088,0.6176,0.6180,0.6138,
         0.6201,0.6155,0.6105,0.6159,0.6109,0.6155,0.6126,0.6197,0.6218,0.6130,
         0.6163,0.6176,0.6218,0.6239,0.6172,0.6201,0.6230,0.6176,0.6197,0.6222,
         0.6168,0.6184,0.6134,0.6213,0.6176,0.6159,0.6243,0.6293,0.6305,0.6260,
         0.6293,0.6201,0.6234,0.6201,0.6285,0.6226,0.6260,0.6305,0.6285,0.6318,
         0.6184,0.6151,0.6226,0.6251,0.6176,0.6243,0.6226,0.6201,0.6264,0.6226,
         0.6305,0.6234,0.6368,0.6447,0.6468,0.6518,0.6497,0.6531,0.6468,0.6435,
         0.6347,0.6385,0.6368,0.6422,0.6322,0.6285,0.6230,0.6222,0.6276,0.6251,
         0.6285,0.6234,0.6213,0.6293,0.6226,0.6260,0.6301,0.6330,0.6280,0.6251,
         0.6176,0.6151,0.6134,0.6159,0.6126,0.6092,0.6072,0.6051,0.6032,0.6092,
         0.6143,0.6201,0.6226,0.6285,0.6318,0.6343,0.6356,0.6343,0.6301,0.6356,
         0.6368,0.6301,0.6318,0.6268,0.6213,0.6176,0.6134,0.6092,0.6063,0.6092,
         0.6184,0.6118,0.6193,0.6184,0.6113,0.6172,0.6109,0.6163,0.6118,0.6197,
         0.6251,0.6289,0.6209,0.6251,0.6285,0.6310,0.6230,0.6268,0.6218,0.6293,
         0.6197,0.6118,0.6105,0.6163,0.6126,0.6201,0.6113,0.6176,0.6118,0.6080,
         0.6072,0.6113,0.6151,0.6176,0.6218,0.6301,0.6339,0.6347,0.6301,0.6335,
         0.6260,0.6226,0.6184,0.6159,0.6118,0.6134,0.6092,0.6059,0.6151,0.6138,
         0.6197,0.6260,0.6293,0.6234,0.6268,0.6218,0.6151,0.6159,0.6260,0.6218,
         0.6260,0.6168,0.6218,0.6260,0.6335,0.6310,0.6251,0.6260,0.6209,0.6155,
         0.6109,0.6168,0.6105,0.6226,0.6151,0.6243,0.6301,0.6339,0.6276,0.6318,
         0.6343,0.6335,0.6285,0.6234,0.6184,0.6105,0.6147,0.6097,0.6163,0.6109,
         0.6151,0.6113,0.6193,0.6234,0.6209,0.6168,0.6134,0.6072,0.6038,0.6113,
         0.6155,0.6189,0.6234,0.6184,0.6205,0.6176,0.6243,0.6168,0.6155,0.6201,
         0.6234,0.6260,0.6201,0.6280,0.6285,0.6301,0.6326,0.6268,0.6260,0.6318,
         0.6260,0.6318,0.6335,0.6347,0.6310,0.6243,0.6159,0.6193,0.6155,0.6218,
         0.6118,0.6168,0.6201,0.6143,0.6201,0.6155,0.6205,0.6251,0.6184,0.6134,
         0.6105,0.6176,0.6209,0.6218,0.6130,0.6134,0.6101,0.6134,0.6189,0.6193,
         0.6155,0.6209,0.6222,0.6184,0.6163,0.6201,0.6176,0.6218,0.6151,0.6184,
         0.6134,0.6168,0.6113,0.6151,0.6080,0.6147,0.6130,0.6230,0.6168,0.6126,
         0.6067,0.6076,0.6034,0.6080,0.6005,0.6097,0.6109,0.6072,0.6009,0.5959,
         0.6005,0.6051,0.6130,0.6151,0.6197,0.6218,0.6268,0.6318,0.6326,0.6276,
         0.6318,0.6330,0.6285,0.6209,0.6293,0.6260,0.6230,0.6268,0.6218,0.6155,
         0.6126,0.6163,0.6118,0.6151,0.6088,0.6163,0.6226,0.6234,0.6193,0.6151,
         0.6122,0.6193,0.6234,0.6260,0.6201,0.6126,0.6176,0.6130,0.6197,0.6234,
         0.6293,0.6326,0.6343,0.6285,0.6276,0.6351,0.6301,0.6260,0.6226,0.6193,
         0.6218,0.6168,0.6197,0.6151,0.6113,0.6088,0.6051,0.6026,0.6026,0.6092,
         0.6113,0.6201,0.6230,0.6176,0.6234,0.6126,0.6184,0.6234,0.6180,0.6218,
         0.6260,0.6234,0.6260,0.6285,0.6260,0.6301,0.6351,0.6360,0.6301,0.6197,
         0.6134,0.6209,0.6226,0.6176,0.6151,0.6260,0.6310,0.6184,0.6155,0.6138,
         0.6134,0.6189,0.6134,0.6239]

panel_labels = ["(a)", "(b)", "(c)", "(d)", "(e)", "(f)"]
exp_value = [0.599, 0.643, 0.631]
exp_error = [0.012, 0.013, 0.013]
y_limits = [(0.57, 0.64), (0.61, 0.68), (0.59, 0.655)]
x_ticks = [0, 50, 100, 150, 200, 250]
legend_labels = ["Old FF", "New FF", "Experiment", "Experimental error range"]

series = [(t_a, old_a), (t_b, new_b), (t_c, old_c), (t_d, new_d), (t_e, old_e), (t_f, new_f)]

# ---------------- style ----------------
BLUE = "#2b40ff"
RED = "#ff1000"
GREEN = "#22ac00"
BAND = "#d4fbbc"
GRID = "#b5bdbd"
DATA_LW = 2.7

sns.set_style("whitegrid")
plt.rcParams.update({
    "font.family": "serif",
    "font.serif": ["cmr10"],
    "mathtext.fontset": "cm",
    "axes.formatter.use_mathtext": True,
    "axes.unicode_minus": False,
    "axes.edgecolor": "black",
    "axes.linewidth": 1.0,
    "grid.color": GRID,
    "grid.linewidth": 0.9,
    "xtick.bottom": True,
    "ytick.left": True,
    "xtick.direction": "out",
    "ytick.direction": "out",
    "xtick.major.size": 3.5,
    "ytick.major.size": 3.5,
    "xtick.major.width": 0.9,
    "ytick.major.width": 0.9,
    "xtick.color": "black",
    "ytick.color": "black",
    "text.color": "black",
    "axes.labelcolor": "black",
})

fig = plt.figure(figsize=(3490 / 300, 2721 / 300), dpi=300)

lefts = [0.0657, 0.5753]
width = 0.4240
rows = [(0.7409, 0.2510), (0.4388, 0.2521), (0.1371, 0.2517)]

for i, (t, v) in enumerate(series):
    r, c = divmod(i, 2)
    ax = fig.add_axes([lefts[c], rows[r][0], width, rows[r][1]])
    color = BLUE if c == 0 else RED
    ax.axhspan(exp_value[r] - exp_error[r], exp_value[r] + exp_error[r],
               color=BAND, lw=0, zorder=0.1)
    ax.axhline(exp_value[r], color=GREEN, lw=1.9, zorder=1.5)
    sns.lineplot(x=np.array(t), y=np.array(v), ax=ax, color=color, linewidth=DATA_LW,
                 estimator=None, sort=False, legend=False, zorder=2)
    ax.set_xlim(0, 280)
    ax.set_ylim(*y_limits[r])
    ax.set_xticks(x_ticks)
    ax.yaxis.set_major_locator(MultipleLocator(0.01))
    ax.yaxis.set_major_formatter(FormatStrFormatter("%.2f"))
    ax.grid(True, color=GRID, lw=0.9)
    ax.set_axisbelow(True)
    for s in ax.spines.values():
        s.set_color("black")
        s.set_linewidth(1.0)
    ax.tick_params(labelsize=13.5)
    if r < 2:
        ax.tick_params(labelbottom=False)
        ax.set_xlabel("")
    else:
        ax.set_xlabel("Simulation time (ns)", fontsize=17, labelpad=4)
    if r == 1:
        ax.set_ylabel(r"Area per lipid (nm$^2$)", fontsize=17, labelpad=6)
    else:
        ax.set_ylabel("")
    ax.text(0.018, 0.97, panel_labels[i], transform=ax.transAxes,
            fontsize=17, va="top", ha="left", zorder=5)

handles = [Line2D([], [], color=BLUE, lw=DATA_LW),
           Line2D([], [], color=RED, lw=DATA_LW),
           Line2D([], [], color=GREEN, lw=DATA_LW),
           Patch(facecolor=BAND, edgecolor="none")]
fig.legend(handles, legend_labels, loc="lower left",
           bbox_to_anchor=(0.0989, 0.0016, 0.868, 0.0474), mode="expand",
           ncol=4, fontsize=17, frameon=True, fancybox=True, edgecolor="#c8c8c8",
           handlelength=2.3, handletextpad=0.8, borderaxespad=0.0)

fig.savefig("out.png", dpi=300)
